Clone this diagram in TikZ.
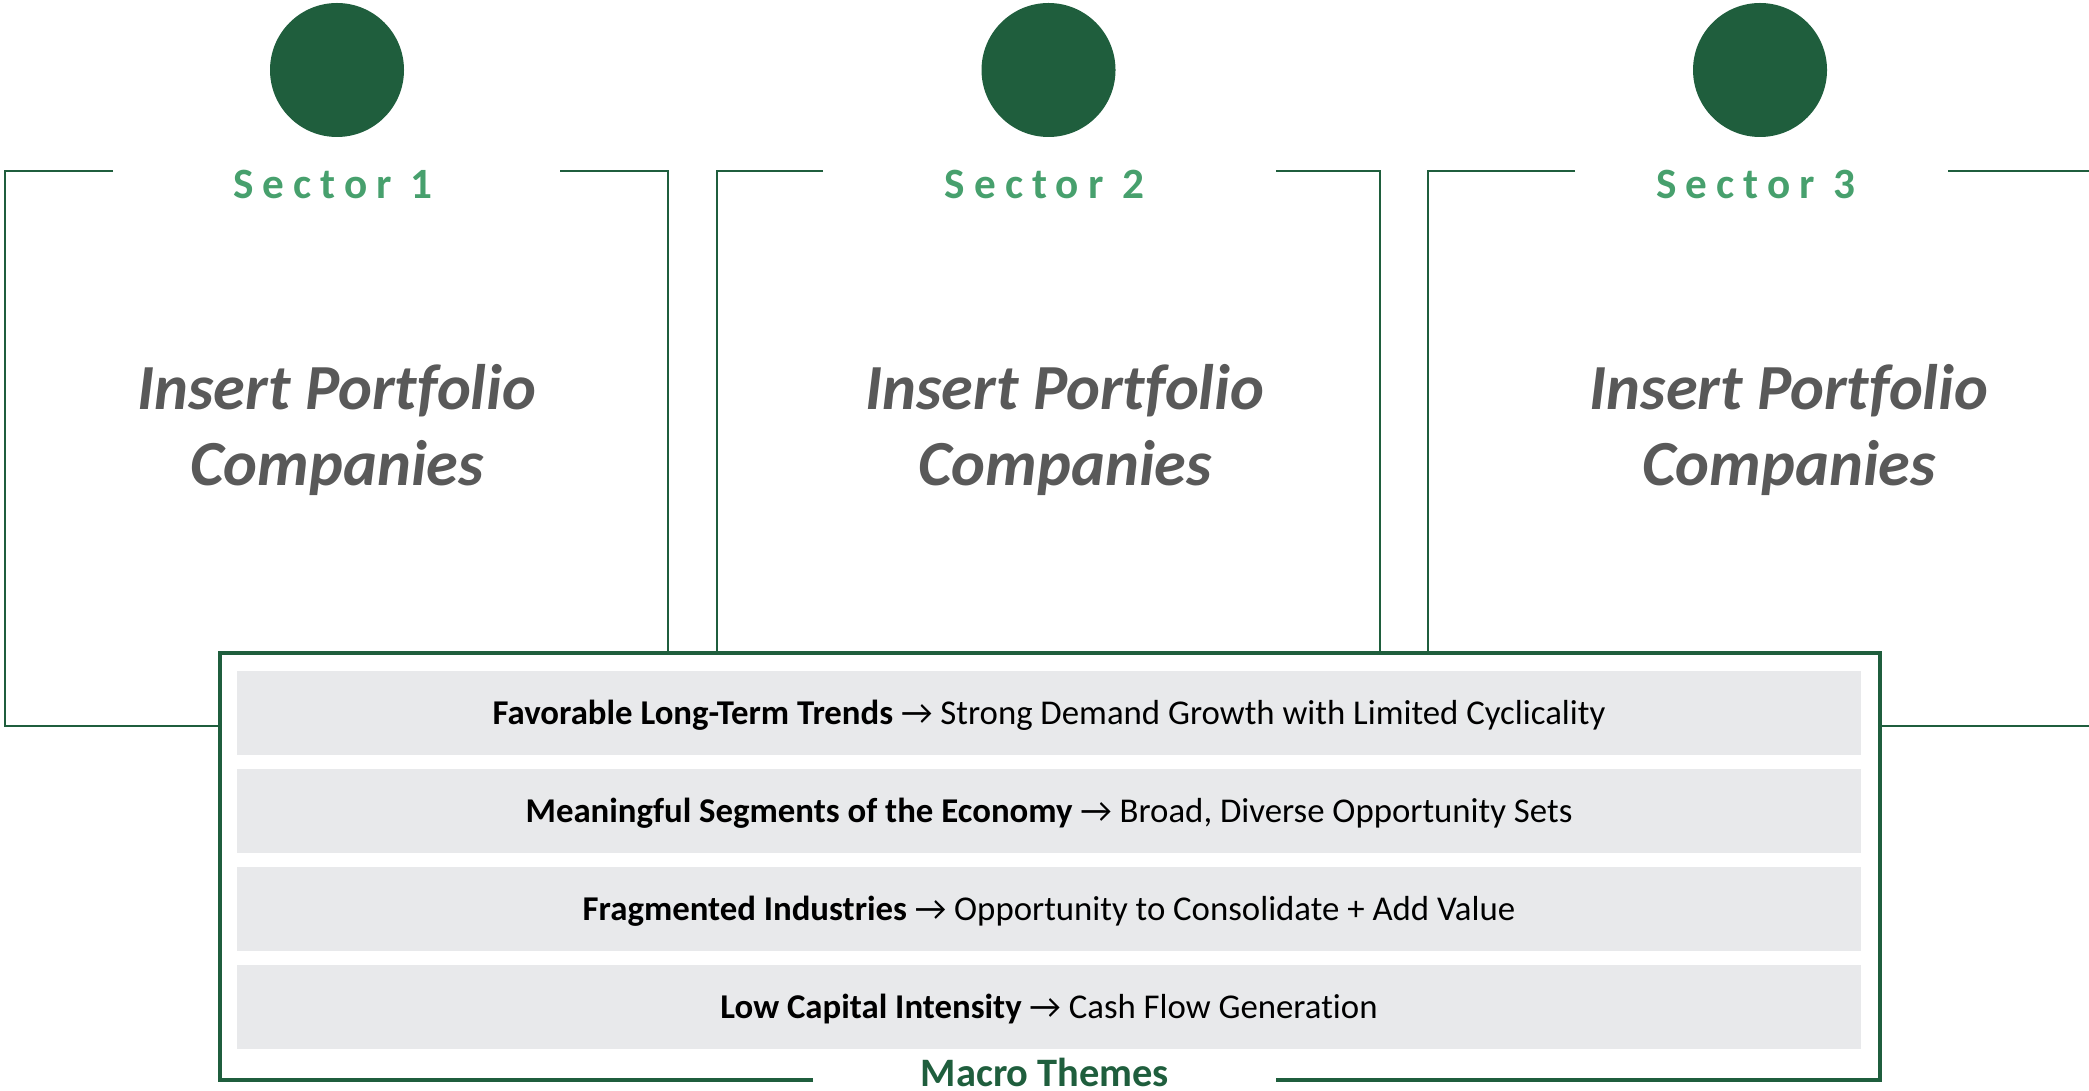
\documentclass[tikz,border=0pt]{standalone}
\usepackage{fontspec}
\setmainfont[Ligatures=NoCommon]{Carlito}
\newfontfamily\sectorfont[LetterSpace=21]{Carlito}
\usetikzlibrary{positioning}

\definecolor{darkgreen}{HTML}{1F5E3D}
\definecolor{labelgreen}{HTML}{47A06D}
\definecolor{barfill}{HTML}{E8E9EB}
\definecolor{insertgray}{HTML}{595959}

\begin{document}
\begin{tikzpicture}[x=0.1mm, y=-0.1mm,
  frame/.style={draw=darkgreen, line width=0.65pt},
  sector/.style={anchor=base, inner sep=0, text=labelgreen, font=\sectorfont\bfseries\fontsize{12.3}{14}\selectfont},
  insert/.style={align=center, inner sep=0, text=insertgray, font=\bfseries\itshape\fontsize{18.3}{21.8}\selectfont},
  bar/.style={fill=barfill, inner sep=0, minimum width=162.4mm, minimum height=8.4mm, text height=8pt, text depth=1.6pt, font=\fontsize{9.9}{11}\selectfont}]
\clip (0,0) rectangle (2089,1091);

% Sector columns
\foreach \i/\tx in {1/337, 2/1065, 3/1789} {
  \pgfmathsetmacro{\xl}{5+711.5*(\i-1)}
  \fill[darkgreen] (\xl+332,70) circle (67);
  \node[sector] (sector\i) at (\xl+328,199) {Sector \i};
  \node[insert] (insert\i) at (\tx,430) {Insert Portfolio\\Companies};
}

% Brackets round the sectors
\draw[frame] (113,171) -- (5,171) -- (5,726) -- (220,726);
\draw[frame] (560,171) -- (668,171) -- (668,653);
\draw[frame] (823,171) -- (717,171) -- (717,653);
\draw[frame] (1276,171) -- (1380,171) -- (1380,653);
\draw[frame] (1575,171) -- (1428,171) -- (1428,653);
\draw[frame] (1948,171) -- (2091,171) -- (2091,726) -- (1880,726);

% Macro themes box
\draw[darkgreen, line width=1.2pt] (813,1080) -- (220,1080) -- (220,653) -- (1880,653) -- (1880,1080) -- (1276,1080);
\foreach \k/\hd/\tl in {1/{Favorable Long-Term Trends}/{Strong Demand Growth with Limited Cyclicality},
                        2/{Meaningful Segments of the Economy}/{Broad, Diverse Opportunity Sets},
                        3/{Fragmented Industries}/{Opportunity to Consolidate + Add Value},
                        4/{Low Capital Intensity}/{Cash Flow Generation}} {
  \node[bar] (theme\k) at (1049,{713+98*(\k-1)}) {\textbf{\hd} → \tl};
}
\node[anchor=base, inner sep=0, text=darkgreen, font=\bfseries\fontsize{11.5}{14}\selectfont] (macro) at (1045,1086) {Macro Themes};
\end{tikzpicture}
\end{document}
